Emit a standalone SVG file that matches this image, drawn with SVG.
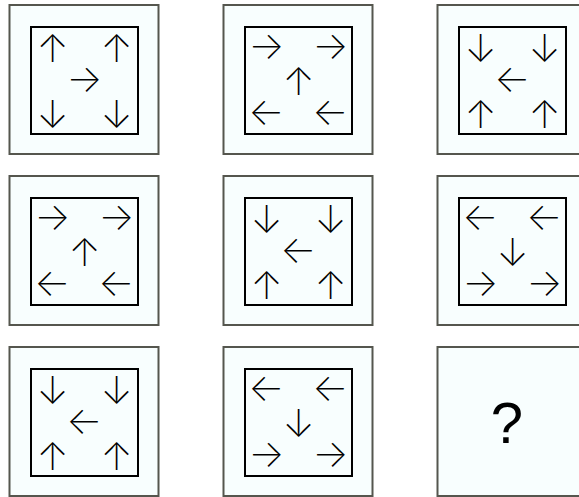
<svg xmlns="http://www.w3.org/2000/svg" width="579" height="497" viewBox="0 0 579 497">
<style>
.outer{fill:#f8fefe;stroke:#55564e;stroke-width:2}
.inner{fill:#f8fefe;stroke:#000;stroke-width:2}
.a{font-family:Inter,"DejaVu Sans",sans-serif;font-weight:200;font-size:38px;text-anchor:middle;dominant-baseline:central;fill:#000}
.q{font-family:"Liberation Sans",Arial,sans-serif;font-size:58px;text-anchor:middle;fill:#000}
</style>
<rect width="579" height="497" fill="#fff"/>
<g id="cell-1-1">
<rect class="outer" x="9.5" y="5" width="149" height="149"/>
<rect class="inner" x="31" y="27" width="107" height="107"/>
<text class="a" x="52.5" y="47.5">↑</text><text class="a" x="116.5" y="47.5">↑</text>
<text class="a" x="84.5" y="78">→</text>
<text class="a" x="52.5" y="113.5">↓</text><text class="a" x="116.5" y="113.5">↓</text>
</g>
<g id="cell-1-2">
<rect class="outer" x="223.5" y="5" width="149" height="149"/>
<rect class="inner" x="245" y="27" width="107" height="107"/>
<text class="a" x="266.5" y="45">→</text><text class="a" x="330.5" y="45">→</text>
<text class="a" x="298.5" y="80.5">↑</text>
<text class="a" x="266.5" y="111">←</text><text class="a" x="330.5" y="111">←</text>
</g>
<g id="cell-1-3">
<rect class="outer" x="437.5" y="5" width="149" height="149"/>
<rect class="inner" x="459" y="27" width="107" height="107"/>
<text class="a" x="480.5" y="47.5">↓</text><text class="a" x="544.5" y="47.5">↓</text>
<text class="a" x="512.5" y="78">←</text>
<text class="a" x="480.5" y="113.5">↑</text><text class="a" x="544.5" y="113.5">↑</text>
</g>
<g id="cell-2-1">
<rect class="outer" x="9.5" y="176" width="149" height="149"/>
<rect class="inner" x="31" y="198" width="107" height="107"/>
<text class="a" x="52.5" y="216">→</text><text class="a" x="116.5" y="216">→</text>
<text class="a" x="84.5" y="251.5">↑</text>
<text class="a" x="52.5" y="282">←</text><text class="a" x="116.5" y="282">←</text>
</g>
<g id="cell-2-2">
<rect class="outer" x="223.5" y="176" width="149" height="149"/>
<rect class="inner" x="245" y="198" width="107" height="107"/>
<text class="a" x="266.5" y="218.5">↓</text><text class="a" x="330.5" y="218.5">↓</text>
<text class="a" x="298.5" y="249">←</text>
<text class="a" x="266.5" y="284.5">↑</text><text class="a" x="330.5" y="284.5">↑</text>
</g>
<g id="cell-2-3">
<rect class="outer" x="437.5" y="176" width="149" height="149"/>
<rect class="inner" x="459" y="198" width="107" height="107"/>
<text class="a" x="480.5" y="216">←</text><text class="a" x="544.5" y="216">←</text>
<text class="a" x="512.5" y="251.5">↓</text>
<text class="a" x="480.5" y="282">→</text><text class="a" x="544.5" y="282">→</text>
</g>
<g id="cell-3-1">
<rect class="outer" x="9.5" y="347" width="149" height="149"/>
<rect class="inner" x="31" y="369" width="107" height="107"/>
<text class="a" x="52.5" y="389.5">↓</text><text class="a" x="116.5" y="389.5">↓</text>
<text class="a" x="84.5" y="420">←</text>
<text class="a" x="52.5" y="455.5">↑</text><text class="a" x="116.5" y="455.5">↑</text>
</g>
<g id="cell-3-2">
<rect class="outer" x="223.5" y="347" width="149" height="149"/>
<rect class="inner" x="245" y="369" width="107" height="107"/>
<text class="a" x="266.5" y="387">←</text><text class="a" x="330.5" y="387">←</text>
<text class="a" x="298.5" y="422.5">↓</text>
<text class="a" x="266.5" y="453">→</text><text class="a" x="330.5" y="453">→</text>
</g>
<g id="cell-3-3">
<rect class="outer" x="437.5" y="347" width="149" height="149"/>
<text class="q" x="507" y="443">?</text>
</g>
</svg>
